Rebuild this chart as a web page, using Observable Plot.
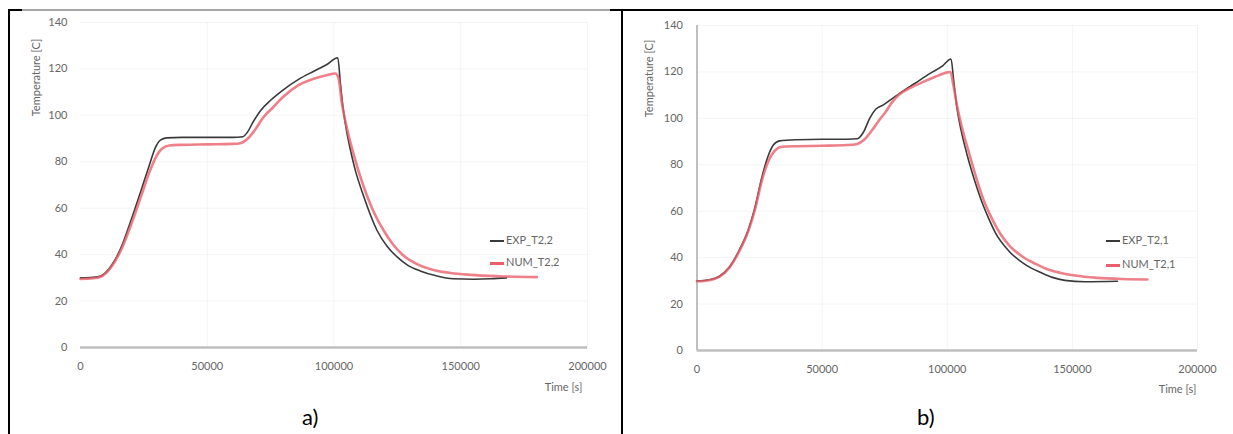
<!DOCTYPE html>
<html><head><meta charset="utf-8">
<script src="https://cdn.jsdelivr.net/npm/d3@7"></script>
<script src="https://cdn.jsdelivr.net/npm/@observablehq/plot@0.6"></script>
<style>
body{margin:0;background:#fff;font-family:Lato,"DejaVu Sans",sans-serif;}
#wrap{position:relative;width:1233px;height:434px;overflow:hidden;background:#fff}
.panel{position:absolute;top:0}
.bar{position:absolute}
.lg{position:absolute;font:11px Lato,sans-serif;color:#666;white-space:nowrap;line-height:12px}
.sw{display:inline-block;width:14px;vertical-align:middle;margin-right:2px}
.cap{position:absolute;font:22px Lato,sans-serif;color:#000;line-height:24px}
</style></head><body>
<div id="wrap">
  <div class="bar" style="left:8px;top:9px;width:2px;height:425px;background:#000"></div>
  <div class="bar" style="left:8px;top:9px;width:14px;height:2px;background:#000"></div>
  <div class="bar" style="left:22px;top:9px;width:588px;height:2px;background:#a6a6a6"></div>
  <div class="bar" style="left:610px;top:9px;width:623px;height:2px;background:#000"></div>
  <div class="bar" style="left:621px;top:9px;width:2px;height:425px;background:#000"></div>
  <div id="pa" class="panel" style="left:0px"></div>
  <div id="pb" class="panel" style="left:622px"></div>
  <div id="lga"></div>
  <div id="lgb"></div>
  <div class="cap" style="left:302px;top:405px">a)</div>
  <div class="cap" style="left:917px;top:405px">b)</div>
</div>
<script>
// ---- tick values ----
const xTicks = [0, 50000, 100000, 150000, 200000];
const yTicks = [0, 20, 40, 60, 80, 100, 120, 140];

// ---- series names ----
const seriesA = ["EXP_T2,2", "NUM_T2,2"];
const seriesB = ["EXP_T2,1", "NUM_T2,1"];

// ---- panel a: EXP_T2,2 ----
const timeA_exp = [0, 5000, 8000, 12000, 16000, 20000, 24000, 27000, 29500, 31500, 34000, 40000, 50000, 60000, 64000, 66000, 68000, 71000, 75000, 80000, 86000, 92000, 97000, 101500, 102500, 103600, 105000, 106400, 108000, 111800, 117000, 121000, 125000, 129000, 134000, 140000, 147000, 155000, 162000, 168000];
const tempA_exp = [30, 30.2, 30.8, 35, 43, 55, 68, 78, 86, 89.3, 90.3, 90.5, 90.5, 90.5, 90.8, 93, 97, 102, 106.5, 111, 115.5, 119, 121.8, 124.8, 114, 103, 93, 85.5, 78, 64.8, 50.4, 43.5, 38.9, 35.5, 33, 31, 29.6, 29.4, 29.6, 30];

// ---- panel a: NUM_T2,2 ----
const timeA_num = [0, 5000, 8000, 12000, 16000, 20000, 24000, 27000, 29500, 32000, 35000, 40000, 50000, 60000, 63000, 66000, 69000, 72000, 76000, 80000, 86000, 92000, 97000, 100500, 101800, 103000, 105000, 107800, 111000, 115000, 119600, 123000, 127500, 133000, 139300, 146000, 154000, 165000, 180000];
const tempA_num = [29.5, 29.8, 30.5, 34.5, 42, 53, 65.5, 75, 81.5, 85.5, 87, 87.3, 87.5, 87.7, 88, 90, 94, 99, 103.5, 108, 113, 115.8, 117.3, 118, 116, 106, 95, 83, 71.5, 60, 50.4, 44.8, 39.5, 35.8, 33.4, 32.1, 31.3, 30.7, 30.3];

// ---- panel b: EXP_T2,1 ----
const timeB_exp = [0, 5000, 9000, 13000, 17000, 20500, 23000, 26000, 28500, 30500, 33000, 40000, 50000, 60000, 64000, 66500, 69000, 71500, 74500, 78000, 82000, 87000, 93000, 98000, 101500, 102600, 103800, 105500, 108000, 111000, 114000, 116500, 119200, 124500, 131200, 137600, 142000, 147000, 155000, 168000];
const tempB_exp = [30, 30.5, 32, 36, 43.5, 52, 61, 75, 84, 88.5, 90.3, 90.8, 91, 91, 91.2, 94, 100, 104, 105.8, 108.5, 111.5, 115, 119.3, 122.5, 125.6, 116, 105, 95, 84, 73, 63.5, 57, 50.8, 43, 37, 33.5, 31.5, 30.2, 29.6, 29.8];

// ---- panel b: NUM_T2,1 ----
const timeB_num = [0, 5000, 9000, 13000, 17000, 20500, 23000, 26000, 28500, 31000, 34000, 40000, 50000, 60000, 64000, 67000, 70000, 73000, 75500, 78000, 80800, 85000, 90000, 95000, 100000, 101300, 102500, 104000, 106000, 109000, 112000, 115000, 118000, 121200, 125000, 130000, 135100, 140000, 145000, 151000, 160000, 170000, 180000];
const tempB_num = [29.8, 30.3, 31.8, 35.8, 43, 51.5, 60, 73.5, 81.5, 86, 87.8, 88, 88.2, 88.5, 89, 91, 95, 99.5, 103, 107, 110.3, 113, 115.5, 117.8, 119.8, 120, 114, 105, 95.5, 84, 73, 63.5, 56.5, 50.3, 45, 40.5, 37.4, 35, 33.5, 32.3, 31.3, 30.8, 30.6];

const EXP_COLOR = "#3a3a3a";
const NUM_COLOR = "#e8606a";

function rows(ts, vs) { return ts.map((t, i) => ({t, T: vs[i]})); }

function panel(cfg) {
  const exp = rows(cfg.te, cfg.ve), num = rows(cfg.tn, cfg.vn);
  const marks = [
    Plot.gridX(xTicks.slice(1), {stroke: "#000", strokeOpacity: 0.045}),
    Plot.gridY(yTicks.slice(1), {stroke: "#000", strokeOpacity: 0.045}),
    Plot.ruleY([0], {stroke: "#bfbfbf", strokeWidth: 2.5}),
  ];
  if (cfg.yLine) marks.push(Plot.ruleX([0], {stroke: "#bfbfbf", strokeWidth: 2}));
  marks.push(
    Plot.line(exp, {x: "t", y: "T", stroke: EXP_COLOR, strokeWidth: 1.6, curve: "monotone-x"}),
    Plot.line(num, {x: "t", y: "T", stroke: NUM_COLOR, strokeWidth: 2.6, strokeOpacity: 0.8, curve: "monotone-x"}),
    Plot.axisX(xTicks, {tickSize: 0, tickPadding: 15, fontSize: 11, fill: "#666", label: null, tickFormat: d3.format("d")}),
    Plot.axisY(yTicks, {tickSize: 0, tickPadding: cfg.yPad, fontSize: 11, fill: "#666", label: null}),
    Plot.text(["Temperature [C]"], {text: d => d, frameAnchor: "top-left", dx: cfg.ytdx, dy: cfg.ytdy, rotate: -90, fontSize: 11, fill: "#666", textAnchor: "middle"}),
    Plot.text(["Time [s]"], {text: d => d, frameAnchor: "bottom-right", dx: cfg.xtdx, dy: cfg.xtdy, fontSize: 11, fill: "#666", textAnchor: "middle"})
  );
  return Plot.plot({
    width: cfg.width, height: 400,
    marginLeft: cfg.ml, marginRight: cfg.mr, marginTop: cfg.mt, marginBottom: 400 - cfg.y0,
    x: {domain: [0, 200000]},
    y: {domain: [0, 140]},
    style: {fontFamily: "Lato, sans-serif", background: "transparent", overflow: "visible"},
    marks
  });
}

document.getElementById("pa").appendChild(panel({
  te: timeA_exp, ve: tempA_exp, tn: timeA_num, vn: tempA_num,
  width: 610, ml: 80, mr: 23, mt: 22, y0: 347, yPad: 13, yLine: false,
  ytdx: -48, ytdy: 55, xtdx: -24, xtdy: 43
}));
document.getElementById("pb").appendChild(panel({
  te: timeB_exp, ve: tempB_exp, tn: timeB_num, vn: tempB_num,
  width: 611, ml: 74.5, mr: 36, mt: 25, y0: 350, yPad: 14, yLine: true,
  ytdx: -51.5, ytdy: 53, xtdx: -20, xtdy: 42
}));

function legend(id, names, left, tops) {
  const el = document.getElementById(id);
  const colors = [EXP_COLOR, NUM_COLOR], widths = [2, 3];
  names.forEach((n, i) => {
    const d = document.createElement("div");
    d.className = "lg";
    d.style.left = left + "px";
    d.style.top = (tops[i] - 6) + "px";
    d.innerHTML = `<span class="sw" style="height:${widths[i]}px;background:${colors[i]}"></span>${n}`;
    el.appendChild(d);
  });
}
legend("lga", seriesA, 490, [240, 262]);
legend("lgb", seriesB, 1106, [240, 264]);
</script>
</body></html>
